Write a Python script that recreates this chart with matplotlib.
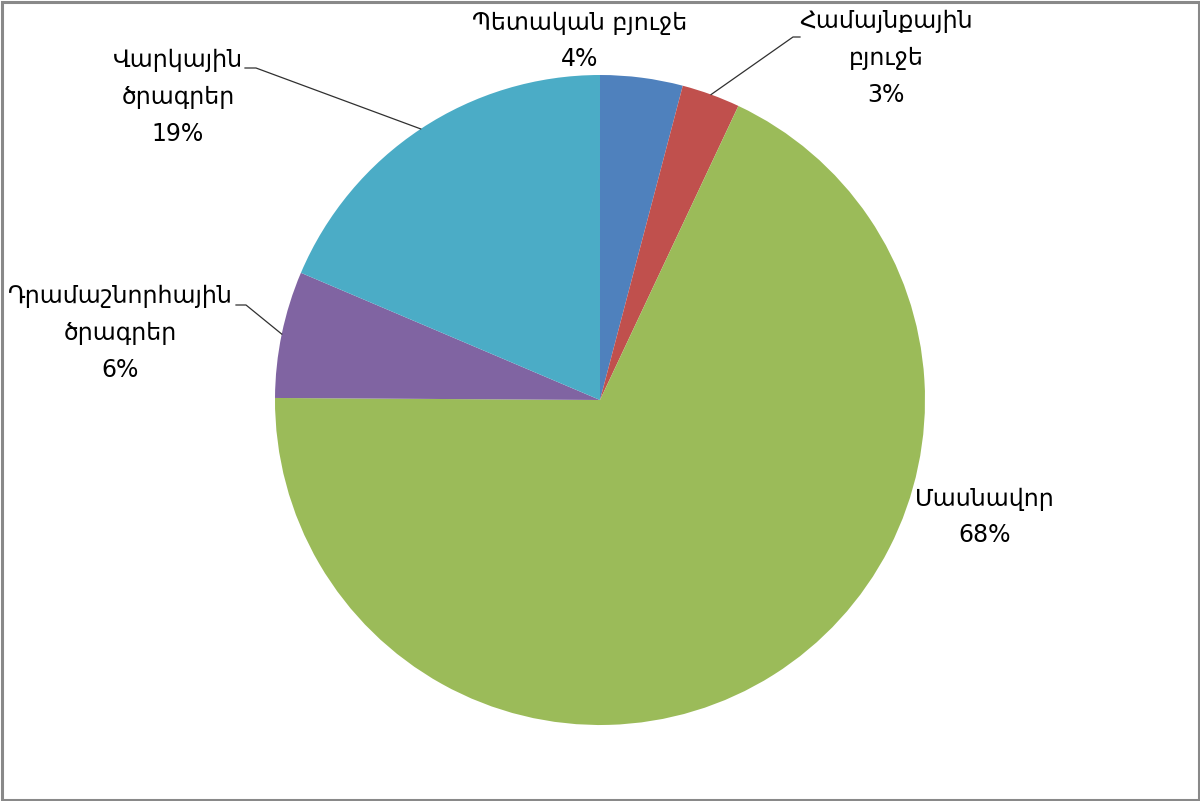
"""
Pie chart: funding sources (Armenian labels), Excel-style layout.
"""
import numpy as np
import matplotlib.pyplot as plt
from matplotlib.patches import Rectangle

# data
categories = ["Պետական բյուջե", "Համայնքային\nբյուջե", "Մասնավոր",
              "Դրամաշնորհային\nծրագրեր", "Վարկային\nծրագրեր"]
shares = [4.1, 2.9, 68.1, 6.3, 18.6]
colors = ["#4F81BD", "#C0504D", "#9BBB59", "#8064A2", "#4BACC6"]

# layout (image pixels, y from top)
W, H = 1200, 801
CENTER = (600, 400)
RADIUS = 325
label_pos = [(580, 41), (886, 58), (985, 517), (120, 333), (178, 97)]
# elbow of the leader line next to the text (None = no leader)
elbows = [None, ((800, 37), (793, 37)), None,
          ((236, 305), (246, 305)), ((245, 68), (256, 68))]


def main():
    fig = plt.figure(figsize=(W / 100, H / 100), dpi=100)
    ax = fig.add_axes([0, 0, 1, 1])

    cx, cy = CENTER[0], H - CENTER[1]
    wedges, _ = ax.pie(shares, colors=colors, startangle=90, counterclock=False,
                       center=(cx, cy), radius=RADIUS,
                       wedgeprops=dict(linewidth=0))
    ax.set_xlim(0, W)
    ax.set_ylim(0, H)
    ax.set_aspect("equal")
    ax.axis("off")

    for w, name, val, pos, elb in zip(wedges, categories, shares, label_pos, elbows):
        ax.text(pos[0], H - pos[1], f"{name}\n{val:.0f}%", ha="center", va="center",
                multialignment="center", fontsize=17, linespacing=1.68,
                color="black", family="DejaVu Sans")
        if elb is None:
            continue
        mid = np.deg2rad((w.theta1 + w.theta2) / 2)
        end = (cx + RADIUS * np.cos(mid), cy + RADIUS * np.sin(mid))
        xs = [elb[0][0], elb[1][0], end[0]]
        ys = [H - elb[0][1], H - elb[1][1], end[1]]
        ax.plot(xs, ys, color="#303030", linewidth=0.9)

    # grey chart frame
    fig.patches.append(Rectangle((1.5 / W, 1.5 / H), 1 - 3 / W, 1 - 3 / H,
                                 transform=fig.transFigure, fill=False,
                                 edgecolor="#898989", linewidth=2.2))

    fig.savefig("out.png", dpi=100)


if __name__ == "__main__":
    main()
